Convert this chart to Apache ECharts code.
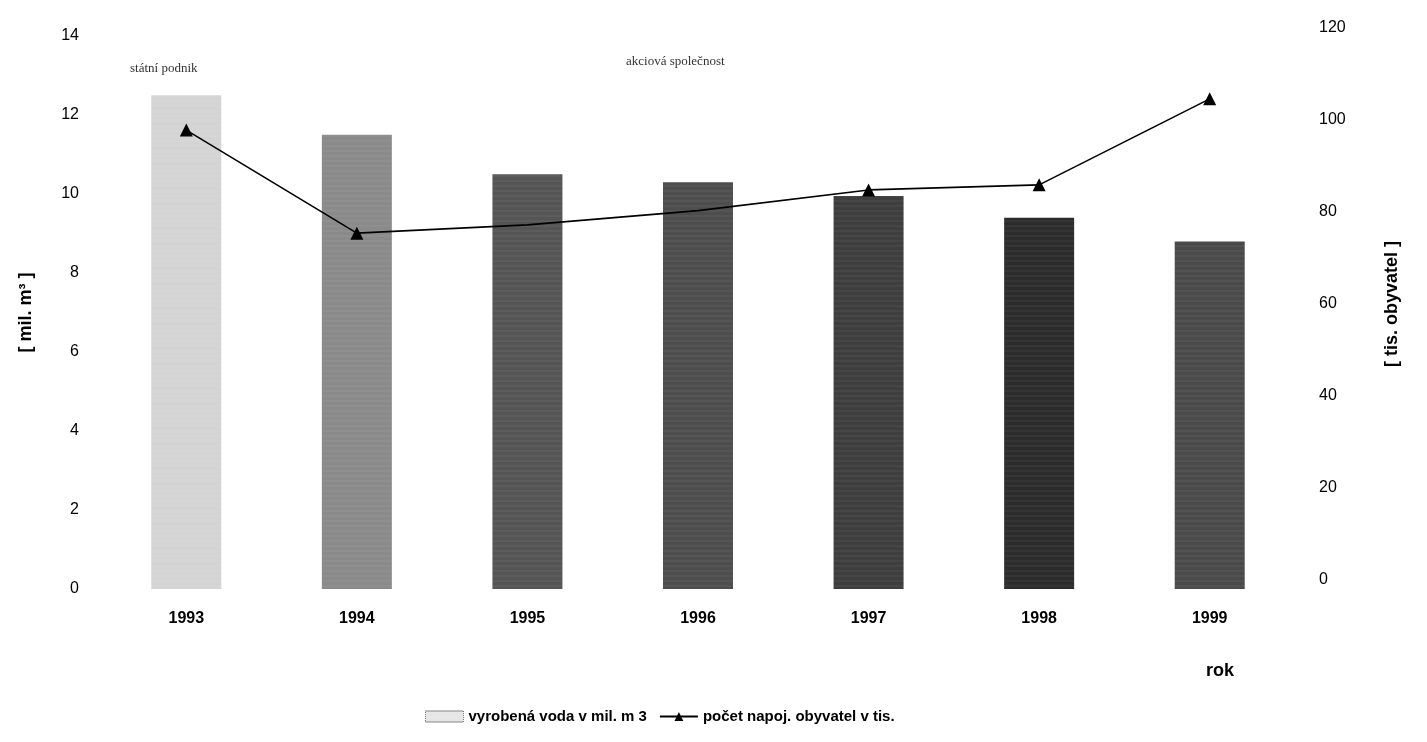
<!DOCTYPE html>
<html>
<head>
<meta charset="utf-8">
<script src="https://cdn.jsdelivr.net/npm/echarts@6/dist/echarts.min.js"></script>
<style>html,body{margin:0;padding:0;background:#fff;}#c{width:1427px;height:742px;}</style>
</head>
<body>
<div id="c"></div>
<script>
const categories = ['1993','1994','1995','1996','1997','1998','1999'];
const waterValues = [12.5, 11.5, 10.5, 10.3, 9.95, 9.4, 8.8];
const populationValues = [97.8, 75.4, 77.2, 80.3, 84.8, 85.9, 104.6];
const leftTicks = [0, 2, 4, 6, 8, 10, 12, 14];
const rightTicks = [0, 20, 40, 60, 80, 100, 120];
const barColors = ['#d4d4d4','#8a8a8a','#555555','#4d4d4d','#3e3e3e','#2c2c2c','#4a4a4a'];
const hiddenMarkers = [2, 3];

const chart = echarts.init(document.getElementById('c'));
const font = 'Liberation Sans, Arial, sans-serif';
chart.setOption({
  backgroundColor: '#fff',
  animation: false,
  textStyle: {fontFamily: font},
  grid: [
    {left: 101, right: 132, top: 36, bottom: 153},
    {left: 101, right: 132, top: 28, bottom: 162}
  ],
  legend: {
    bottom: 13, left: 420,
    itemWidth: 38, itemHeight: 11, itemGap: 12,
    textStyle: {fontFamily: font, fontSize: 15, fontWeight: 'bold', color: '#000'},
    data: [
      {name: 'vyrobená voda v mil. m 3', icon: 'rect', itemStyle: {color: '#e6e6e6', borderColor: '#777', borderWidth: 1, borderType: 'dotted'}},
      {name: 'počet napoj. obyvatel v tis.'}
    ]
  },
  xAxis: [
    {type: 'category', gridIndex: 0, data: categories,
     axisLine: {show: false}, axisTick: {show: false},
     axisLabel: {color: '#000', fontSize: 16, fontWeight: 'bold', margin: 22}},
    {type: 'category', gridIndex: 1, data: categories, show: false}
  ],
  yAxis: [
    {type: 'value', gridIndex: 0, min: 0, max: 14, interval: 2,
     name: '[ mil. m³ ]', nameLocation: 'middle', nameGap: 66, nameRotate: 90,
     nameTextStyle: {color: '#000', fontSize: 18, fontWeight: 'bold'},
     axisLine: {show: false}, axisTick: {show: false}, splitLine: {show: false},
     axisLabel: {color: '#000', fontSize: 16, margin: 22,
       formatter: v => leftTicks.includes(v) ? String(v) : ''}},
    {type: 'value', gridIndex: 1, position: 'right', min: 0, max: 120, interval: 20,
     name: '[ tis. obyvatel ]', nameLocation: 'middle', nameGap: 88, nameRotate: 90,
     nameTextStyle: {color: '#000', fontSize: 18, fontWeight: 'bold'},
     axisLine: {show: false}, axisTick: {show: false}, splitLine: {show: false},
     axisLabel: {color: '#000', fontSize: 16, margin: 24,
       formatter: v => rightTicks.includes(v) ? String(v) : ''}}
  ],
  series: [
    {name: 'vyrobená voda v mil. m 3', type: 'bar', xAxisIndex: 0, yAxisIndex: 0,
     barWidth: 70,
     data: waterValues.map((v, i) => ({value: v, itemStyle: {color: barColors[i]}})),
     itemStyle: {decal: {symbol: 'rect', symbolSize: 0.5, dashArrayX: [1, 0], dashArrayY: [2, 3], color: 'rgba(255,255,255,0.18)'}}
    },
    {name: 'počet napoj. obyvatel v tis.', type: 'line', xAxisIndex: 1, yAxisIndex: 1,
     data: populationValues.map((v, i) => hiddenMarkers.includes(i) ? {value: v, symbol: 'none'} : v),
     symbol: 'triangle', symbolSize: 13,
     lineStyle: {color: '#000', width: 1.6}, itemStyle: {color: '#000'}, z: 5}
  ],
  graphic: [
    {type: 'text', left: 130, top: 62, style: {text: 'státní podnik', font: '13px "Liberation Serif", serif', fill: '#333'}},
    {type: 'text', left: 626, top: 55, style: {text: 'akciová společnost', font: '13px "Liberation Serif", serif', fill: '#333'}},
    {type: 'text', left: 1206, top: 662, style: {text: 'rok', font: 'bold 18px "Liberation Sans", Arial, sans-serif', fill: '#000'}}
  ]
});
</script>
</body>
</html>
